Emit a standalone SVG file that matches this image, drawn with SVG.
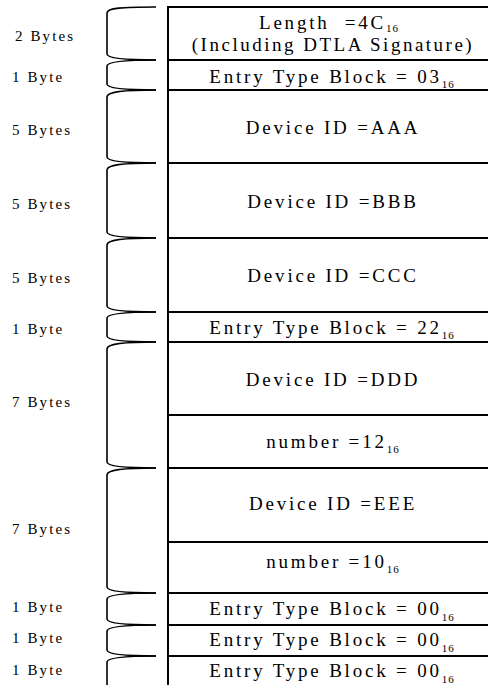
<svg xmlns="http://www.w3.org/2000/svg" width="488" height="685" viewBox="0 0 488 685">
<style>
.bg{fill:#fff}
.box{stroke:#000;stroke-width:2;fill:none}
.brace{stroke:#000;stroke-width:1.6;fill:none}
.t{font-family:"Liberation Serif","Times New Roman",serif;font-size:19px;letter-spacing:2.8px;text-anchor:middle;fill:#000;white-space:pre}
.lbl{font-family:"Liberation Serif","Times New Roman",serif;font-size:15px;letter-spacing:2.1px;fill:#000}
.sub{font-size:11px;letter-spacing:1px}
</style>
<rect class="bg" x="0" y="0" width="488" height="685"/>
<g id="connectors">
<path class="brace" d="M156,7 C122,7 107,8 107,13 L107,54 C107,58 122,60 156,60"/>
<path class="brace" d="M156,60 C122,60 107,62 107,66 L107,84 C107,88 122,90 156,90"/>
<path class="brace" d="M156,90 C122,90 107,92 107,97 L107,157 C107,161 122,163 156,163"/>
<path class="brace" d="M156,163 C122,163 107,165 107,170 L107,232 C107,236 122,238 156,238"/>
<path class="brace" d="M156,238 C122,238 107,240 107,245 L107,306 C107,310 122,312 156,312"/>
<path class="brace" d="M156,312 C122,312 107,314 107,318 L107,336 C107,340 122,342 156,342"/>
<path class="brace" d="M156,342 C122,342 107,344 107,349 L107,462 C107,466 122,468 156,468"/>
<path class="brace" d="M156,468 C122,468 107,470 107,475 L107,587 C107,591 122,593 156,593"/>
<path class="brace" d="M156,593 C122,593 107,595 107,599 L107,619 C107,623 122,625 156,625"/>
<path class="brace" d="M156,625 C122,625 107,627 107,631 L107,650 C107,654 122,656 156,656"/>
<path class="brace" d="M156,656 C122,656 107,658 107,662 L107,685"/>
</g>
<g id="frame">
<path class="box" d="M168,7 V685 M167,7 H488 M168,60 H488 M168,90 H488 M168,163 H488 M168,238 H488 M168,312 H488 M168,342 H488 M168,415 H488 M168,468 H488 M168,542 H488 M168,593 H488 M168,625 H488 M168,656 H488"/>
</g>
<g id="labels">
<text class="lbl" x="15" y="41">2 Bytes</text>
<text class="lbl" x="12" y="82">1 Byte</text>
<text class="lbl" x="12" y="135">5 Bytes</text>
<text class="lbl" x="12" y="209">5 Bytes</text>
<text class="lbl" x="12" y="283">5 Bytes</text>
<text class="lbl" x="12" y="334">1 Byte</text>
<text class="lbl" x="12" y="407">7 Bytes</text>
<text class="lbl" x="12" y="534">7 Bytes</text>
<text class="lbl" x="12" y="612">1 Byte</text>
<text class="lbl" x="12" y="643">1 Byte</text>
<text class="lbl" x="12" y="675">1 Byte</text>
</g>
<g id="node-length">
<text class="t" x="329" y="29">Length  =4C<tspan class="sub" dy="3">16</tspan></text>
<text class="t" x="333" y="51" style="letter-spacing:2.5px">(Including DTLA Signature)</text>
</g>
<g id="node-entry03"><text class="t" x="332" y="83">Entry Type Block = 03<tspan class="sub" dy="5">16</tspan></text></g>
<g id="node-aaa"><text class="t" x="333" y="134">Device ID =AAA</text></g>
<g id="node-bbb"><text class="t" x="333" y="208">Device ID =BBB</text></g>
<g id="node-ccc"><text class="t" x="333" y="282">Device ID =CCC</text></g>
<g id="node-entry22"><text class="t" x="332" y="334">Entry Type Block = 22<tspan class="sub" dy="5">16</tspan></text></g>
<g id="node-ddd"><text class="t" x="333" y="386">Device ID =DDD</text></g>
<g id="node-num12"><text class="t" x="333" y="448">number =12<tspan class="sub" dy="5">16</tspan></text></g>
<g id="node-eee"><text class="t" x="333" y="510">Device ID =EEE</text></g>
<g id="node-num10"><text class="t" x="333" y="568">number =10<tspan class="sub" dy="5">16</tspan></text></g>
<g id="node-entry00a"><text class="t" x="332" y="615">Entry Type Block = 00<tspan class="sub" dy="6">16</tspan></text></g>
<g id="node-entry00b"><text class="t" x="332" y="646">Entry Type Block = 00<tspan class="sub" dy="6">16</tspan></text></g>
<g id="node-entry00c"><text class="t" x="332" y="677">Entry Type Block = 00<tspan class="sub" dy="6">16</tspan></text></g>
</svg>
